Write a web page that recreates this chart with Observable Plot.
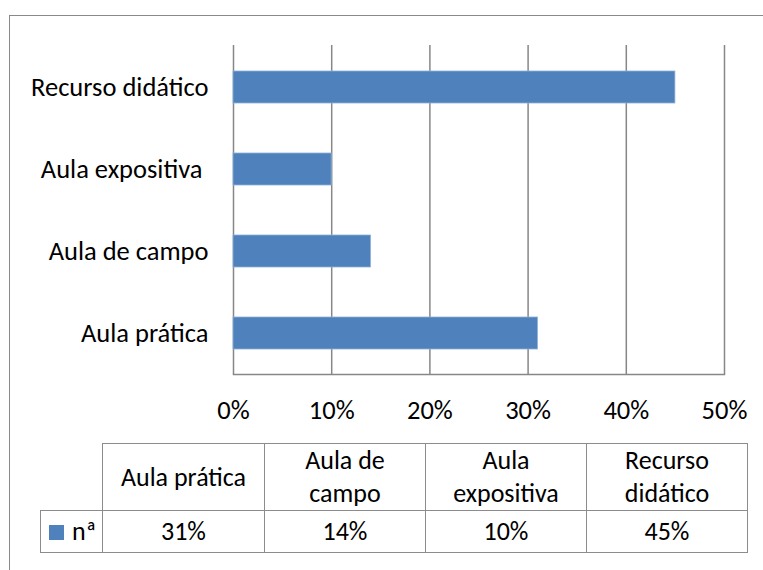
<!DOCTYPE html>
<html><head><meta charset="utf-8">
<script src="https://cdn.jsdelivr.net/npm/d3@7"></script>
<script src="https://cdn.jsdelivr.net/npm/@observablehq/plot@0.6"></script>
<style>
body{margin:0;background:#fff;}
#wrap{position:relative;width:763px;height:570px;overflow:hidden;font-family:Carlito, Calibri, Lato, sans-serif;}
#outer{position:absolute;left:9px;top:15px;width:800px;height:600px;border:1.5px solid #898989;}
#chart{position:absolute;left:0;top:0;}
#chart svg text{white-space:pre;}
#tbl{position:absolute;left:40px;top:443px;border-collapse:collapse;table-layout:fixed;font-size:26px;color:#000;}
#tbl td{border:1.5px solid #8c8c8c;text-align:center;padding:0;white-space:pre-line;line-height:33px;}
#tbl td.empty{border-top:none;border-left:none;}
#tbl td.key{text-align:left;padding-left:8px;}
.sw{display:inline-block;width:15px;height:15px;background:#4F81BD;margin-right:8px;vertical-align:0px;}
</style>
</head><body>
<div id="wrap"><div id="outer"></div><div id="chart"></div></div>
<script>
const categories = ["Aula prática", "Aula de campo", "Aula expositiva ", "Recurso didático"];
const values = [0.31, 0.14, 0.10, 0.45];
const xTicks = [0, 0.1, 0.2, 0.3, 0.4, 0.5];
const tableHeaders = ["Aula prática", "Aula de\ncampo", "Aula\nexpositiva", "Recurso\ndidático"];
const seriesName = "nª";
const barColor = "#4F81BD";

const data = categories.map((c, i) => ({cat: c, value: values[i]}));
const pct = d3.format(".0%");

const chart = Plot.plot({
  width: 763, height: 430,
  marginLeft: 233, marginRight: 39, marginTop: 45, marginBottom: 56,
  style: {fontFamily: "Carlito, Calibri, Lato, sans-serif", fontSize: "26.5px", color: "#000", background: "transparent"},
  x: {domain: [0, 0.5]},
  y: {domain: categories.slice().reverse(), paddingInner: 0.61, paddingOuter: 0.305},
  marks: [
    Plot.gridX(xTicks, {stroke: "#878787", strokeOpacity: 1, strokeWidth: 1.5}),
    Plot.frame({anchor: "bottom", stroke: "#878787", strokeWidth: 1.5}),
    Plot.barX(data, {x: "value", y: "cat", fill: barColor, stroke: "#8fb0d8", strokeWidth: 0.8}),
    Plot.axisX({ticks: xTicks, tickSize: 0, tickPadding: 26, tickFormat: pct, label: null}),
    Plot.axisY({tickSize: 0, tickPadding: 25, label: null})
  ]
});
document.getElementById("chart").appendChild(chart);

// data table below the chart
const tbl = document.createElement("table");
tbl.id = "tbl";
const cg = document.createElement("colgroup");
[62, 162, 161, 161, 161].forEach(w => { const c = document.createElement("col"); c.style.width = w + "px"; cg.appendChild(c); });
tbl.appendChild(cg);
const r1 = tbl.insertRow();
r1.style.height = "65px";
const e = r1.insertCell(); e.className = "empty";
tableHeaders.forEach(h => { const td = r1.insertCell(); td.textContent = h; });
const r2 = tbl.insertRow();
r2.style.height = "42px";
const k = r2.insertCell(); k.className = "key";
k.innerHTML = '<span class="sw"></span>';
k.appendChild(document.createTextNode(seriesName));
values.forEach(v => { const td = r2.insertCell(); td.textContent = pct(v); });
document.getElementById("wrap").appendChild(tbl);
</script>
</body></html>
